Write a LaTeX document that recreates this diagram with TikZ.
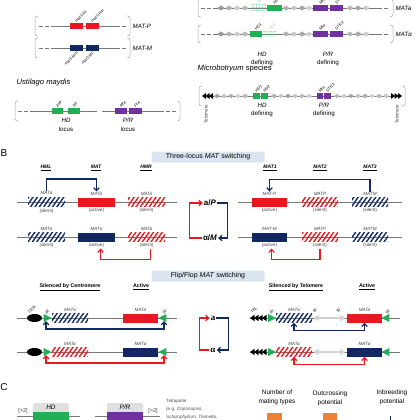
\documentclass[tikz,border=0pt]{standalone}
\usepackage{fontspec}
\setmainfont{Liberation Sans}
\newfontfamily\grkserif{Liberation Serif}
\usetikzlibrary{arrows.meta,positioning,calc,patterns.meta,shapes.geometric}
\definecolor{mred}{RGB}{232,24,30}
\definecolor{mnavy}{RGB}{18,40,96}
\definecolor{mgreen}{RGB}{34,174,84}
\definecolor{mpurple}{RGB}{112,48,160}
\definecolor{morange}{RGB}{237,128,52}
\definecolor{mblue}{RGB}{219,229,241}
\definecolor{mline}{RGB}{120,120,120}

\begin{document}
\begin{tikzpicture}[
  x=1pt,y=-1pt,>={Straight Barb[length=3pt,width=5.6pt]},
  chr/.style={draw=mline,line width=.7pt},
  chrd/.style={chr,dash pattern=on 3.5pt off 2.5pt},
  brk/.style={draw=gray!70,line width=.5pt,rounded corners=2.5pt},
  gbox/.style={inner sep=0pt,minimum height=6pt},
  locus/.style={inner sep=0pt,minimum width=36pt,minimum height=9pt},
  actR/.style={locus,fill=mred},
  actN/.style={locus,fill=mnavy},
  silR/.style={locus,pattern={Lines[angle=55,distance=3.6pt,line width=1.4pt]},pattern color=mred},
  silN/.style={locus,pattern={Lines[angle=55,distance=3.6pt,line width=1.4pt]},pattern color=mnavy},
  faded/.style={gbox,pattern={Dots[distance=1.5pt,radius=.45pt]},pattern color=mgreen!80},
  genel/.style={rotate=45,font=\fontsize{4}{4.5}\selectfont,inner sep=.3pt},
  gl/.style={font=\fontsize{4.6}{5}\selectfont\itshape,text=black!75,inner sep=.5pt},
  st/.style={font=\fontsize{4.6}{5}\selectfont,text=black!75,inner sep=.5pt},
  mlab/.style={font=\fontsize{6.2}{7}\selectfont,inner sep=.5pt},
  ttl/.style={font=\fontsize{7.6}{9}\selectfont,inner sep=.5pt},
  hdr/.style={font=\fontsize{5}{6}\selectfont\bfseries\itshape,inner sep=.5pt},
  hdrf/.style={font=\fontsize{5.3}{6}\selectfont\bfseries,inner sep=.5pt},
  banner/.style={fill=mblue,rounded corners=2pt,minimum width=113pt,minimum height=11pt,
    inner sep=0pt,font=\fontsize{7}{8}\selectfont},
  narr/.style={draw=mnavy,line width=1.2pt,->},
  rarr/.style={draw=mred,line width=1.2pt,->},
  dnarr/.style={narr,<->},
  drarr/.style={rarr,<->},
  garr/.style={draw=gray!35,line width=1.8pt,{Triangle[length=5pt,width=6.5pt]}-{Triangle[length=5pt,width=6.5pt]},
    shorten <=1.5pt,shorten >=1.5pt},
  irR/.style={isosceles triangle,isosceles triangle stretches,shape border rotate=0,
    minimum width=8pt,minimum height=8pt,inner sep=0pt,fill=mgreen},
  irL/.style={irR,shape border rotate=180},
  cen/.style={ellipse,fill=black,minimum width=15pt,minimum height=8pt,inner sep=0pt},
  sw/.style={font=\fontsize{8}{9}\selectfont,inner sep=1pt},
  ff/.style={font=\grkserif\fontsize{9}{10}\selectfont\bfseries,inner sep=1pt},
  panel/.style={font=\fontsize{10}{12}\selectfont,inner sep=0pt},
  tab/.style={fill=gray!25,rounded corners=2pt,minimum width=36pt,minimum height=9pt,inner sep=0pt,
    font=\fontsize{6.5}{7}\selectfont\itshape},
  note/.style={font=\fontsize{4.6}{8}\selectfont,text=black!70,align=left,inner sep=0pt},
  colh/.style={font=\fontsize{6.5}{9}\selectfont,align=center,inner sep=0pt}]
\useasboundingbox (0,0) rectangle (420,420);

% Ustilago maydis
\draw[brk] (38,16) -- (35,16) -- (35,36) -- (38,36);
\draw[brk] (127,16) -- (130,16) -- (130,36) -- (127,36);
\draw[brk] (38,38) -- (35,38) -- (35,58) -- (38,58);
\draw[brk] (127,38) -- (130,38) -- (130,58) -- (127,58);
\foreach \yy in {26,48} {
  \draw[chrd] (39,\yy) -- (53,\yy);
  \draw[chr] (53,\yy) -- (116,\yy);
  \draw[chrd] (116,\yy) -- (127,\yy);}
\node[gbox,fill=mred,minimum width=13pt] (pc) at (76.5,26) {};
\node[gbox,fill=mred,minimum width=13pt] (pm) at (92.5,26) {};
\node[genel,anchor=west] (tpc) at ([xshift=-1pt,yshift=1pt]pc.north) {mat1-Pc};
\node[genel,anchor=west] (tpm) at ([xshift=-1pt,yshift=1pt]pm.north) {mat1-Pm};
\node[mlab,anchor=west] (matp) at (132,26) {\textit{MAT-P}};
\node[gbox,fill=mnavy,minimum width=13pt] (mm) at (76.5,48) {};
\node[gbox,fill=mnavy,minimum width=13pt] (mc) at (92.5,48) {};
\node[genel,anchor=east] (tmm) at ([xshift=1pt,yshift=-1pt]mm.south) {mat1-Mm};
\node[genel,anchor=east] (tmc) at ([xshift=1pt,yshift=-1pt]mc.south) {mat1-Mc};
\node[mlab,anchor=west] (matm) at (132,48) {\textit{MAT-M}};
\node[ttl,anchor=west] (um) at (16,83) {\textit{Ustilago maydis}};

\draw[brk] (18,101) -- (15,101) -- (15,121) -- (18,121);
\draw[brk] (177,101) -- (180,101) -- (180,121) -- (177,121);
\draw[chrd] (18,111) -- (32,111);
\draw[chr] (32,111) -- (97,111);
\draw[chr] (102,111) -- (160,111);
\draw[chrd] (160,111) -- (177,111);
\node[gbox,fill=mgreen,minimum width=11pt] (bw) at (57.5,111) {};
\node[gbox,fill=mgreen,minimum width=12pt] (be) at (74,111) {};
\node[gbox,fill=mpurple,minimum width=12pt] (mfa) at (121,111) {};
\node[gbox,fill=mpurple,minimum width=13pt] (pra) at (135.5,111) {};
\node[genel,anchor=west] (tbw) at ([xshift=-1pt,yshift=1pt]bw.north) {\textit{bW}};
\node[genel,anchor=west] (tbe) at ([xshift=-1pt,yshift=1pt]be.north) {\textit{bE}};
\node[genel,anchor=west] (tmfa) at ([xshift=-1pt,yshift=1pt]mfa.north) {\textit{Mfa}};
\node[genel,anchor=west] (tpra) at ([xshift=-1pt,yshift=1pt]pra.north) {\textit{Pra}};
\node[mlab] (hdu) at (66,120) {\textit{HD}};
\node[mlab] (hdl) at (66,129) {locus};
\node[mlab] (pru) at (128,120) {\textit{P/R}};
\node[mlab] (prl) at (128,129) {locus};

% Microbotryum
\draw[brk] (201,-1) -- (198,-1) -- (198,17) -- (201,17);
\draw[brk] (390,-1) -- (393,-1) -- (393,17) -- (390,17);
\draw[brk] (201,25) -- (198,25) -- (198,43) -- (201,43);
\draw[brk] (390,25) -- (393,25) -- (393,43) -- (390,43);
\foreach \yy in {8,34} {
  \draw[chrd] (201,\yy) -- (214,\yy);
  \draw[chr] (214,\yy) -- (378,\yy);
  \draw[chrd] (378,\yy) -- (390,\yy);
  \foreach \x/\c in {221/80,229/60,237/40,245/55,286/60,294/45,302/70,309/35,350/55,358/70,366/40}
    \fill[gray!\c] (\x-3.5,\yy) -- (\x,\yy-2.6) -- (\x+3.5,\yy) -- (\x,\yy+2.6) -- cycle;}
\node[faded,minimum width=15pt] (hda1) at (258,8) {};
\node[gbox,fill=mgreen,minimum width=15pt] (hdb1) at (274.5,8) {};
\node[gbox,fill=mpurple,minimum width=15pt] (pra1) at (320.5,8) {};
\node[gbox,fill=mpurple,minimum width=13pt] (prb1) at (336.5,8) {};
\node[genel,anchor=west,text=gray!50] (thda1) at ([xshift=-1pt,yshift=1pt]hda1.north) {HD1};
\node[genel,anchor=west] (thdb1) at ([xshift=-1pt,yshift=1pt]hdb1.north) {HD2};
\node[genel,anchor=west] (tpra1) at ([xshift=-1pt,yshift=1pt]pra1.north) {Mfa};
\node[genel,anchor=west] (tprb1) at ([xshift=-1pt,yshift=1pt]prb1.north) {STE3};
\node[mlab,anchor=west] (mba) at (395,8) {\textit{MATa}};
\node[gbox,fill=mgreen,minimum width=12pt] (hda2) at (256,34) {};
\node[faded,minimum width=14pt] (hdb2) at (270,34) {};
\node[gbox,fill=mpurple,minimum width=15pt] (pra2) at (320.5,34) {};
\node[gbox,fill=mpurple,minimum width=13pt] (prb2) at (336.5,34) {};
\node[genel,anchor=west] (thda2) at ([xshift=-1pt,yshift=1pt]hda2.north) {HD1};
\node[genel,anchor=west,text=gray!50] (thdb2) at ([xshift=-1pt,yshift=1pt]hdb2.north) {HD2};
\node[genel,anchor=west] (tpra2) at ([xshift=-1pt,yshift=1pt]pra2.north) {Mfa};
\node[genel,anchor=west] (tprb2) at ([xshift=-1pt,yshift=1pt]prb2.north) {STE3};
\node[mlab,anchor=west] (mbal) at (395,34) {\textit{MATα}};
\node[mlab] (hdd) at (262,54) {\textit{HD}};
\node[mlab] (hddl) at (262,63) {defining};
\node[mlab] (prd) at (328,54) {\textit{P/R}};
\node[mlab] (prdl) at (328,63) {defining};
\node[ttl,anchor=west] (mbs) at (197,69) {\textit{Microbotryum} species};

\draw[brk] (202,86) -- (199,86) -- (199,106) -- (202,106);
\draw[brk] (403,86) -- (405,86) -- (405,106) -- (403,106);
\draw[chr] (203,96) -- (401,96);
\foreach \x in {202,205.5,209} \fill (\x,96) -- (\x+4,93) -- (\x+4,99) -- cycle;
\foreach \x in {395,398.5,402} \fill (\x,96) -- (\x-4,93) -- (\x-4,99) -- cycle;
\foreach \x/\c in {217/70,224/45,231/60,238/35,245/55,274/60,281/40,288/70,295/45,302/55,309/35,
    337/55,344/40,351/70,358/45,365/60,372/35,379/55,386/45}
  \fill[gray!\c] (\x-3,96) -- (\x,93.6) -- (\x+3,96) -- (\x,98.4) -- cycle;
\node[gbox,fill=mgreen,minimum width=7pt] (hdc1) at (256.5,96) {};
\node[gbox,fill=mgreen,minimum width=7pt] (hdc2) at (264.5,96) {};
\node[gbox,fill=mpurple,minimum width=6pt] (prc1) at (320,96) {};
\node[gbox,fill=mpurple,minimum width=7pt] (prc2) at (327.5,96) {};
\node[genel,anchor=west] (thdc1) at ([xshift=-1pt,yshift=1pt]hdc1.north) {HD1};
\node[genel,anchor=west] (thdc2) at ([xshift=-1pt,yshift=1pt]hdc2.north) {HD2};
\node[genel,anchor=west] (tprc1) at ([xshift=-1pt,yshift=1pt]prc1.north) {Mfa};
\node[genel,anchor=west] (tprc2) at ([xshift=-1pt,yshift=1pt]prc2.north) {STE3};
\node[st,rotate=90,anchor=east] (tel1) at (206,104) {Telomere};
\node[st,rotate=90,anchor=east] (tel2) at (397,104) {Telomere};
\node[mlab] (hde) at (262,105) {\textit{HD}};
\node[mlab] (hdel) at (262,114) {defining};
\node[mlab] (pre) at (324,105) {\textit{P/R}};
\node[mlab] (prel) at (324,114) {defining};

% B: three-locus switching
\node[panel] (pB) at (4,153) {B};
\node[banner] (bn1) at (208,157) {Three-locus \textit{MAT} switching};
\node[hdr] (hHML) at (46,168) {\underline{HML}};
\node[hdr] (hMAT) at (96,168) {\underline{MAT}};
\node[hdr] (hHMR) at (146,168) {\underline{HMR}};
\node[hdr] (hM1) at (270,168) {\underline{MAT1}};
\node[hdr] (hM2) at (320,168) {\underline{MAT2}};
\node[hdr] (hM3) at (370,168) {\underline{MAT3}};
\foreach \yy in {202,237} {\draw[chr] (17,\yy) -- (177,\yy); \draw[chr] (238,\yy) -- (402,\yy);}

\node[silN,minimum width=37pt] (hml1) at (46.5,202) {};
\node[actR,minimum width=37pt] (mat1) at (96.5,202) {};
\node[silR,minimum width=37pt] (hmr1) at (146.5,202) {};
\node[gl,above=1.2pt of hml1] (lhml1) {MATα};
\node[gl,above=1.2pt of mat1] (lmat1) {MATa};
\node[gl,above=1.2pt of hmr1] (lhmr1) {MATa};
\node[st,below=1.2pt of hml1] (shml1) {(silent)};
\node[st,below=1.2pt of mat1] (smat1) {(active)};
\node[st,below=1.2pt of hmr1] (shmr1) {(silent)};
\node[silN,minimum width=37pt] (hml2) at (46.5,237) {};
\node[actN,minimum width=37pt] (mat2) at (96.5,237) {};
\node[silR,minimum width=37pt] (hmr2) at (146.5,237) {};
\node[gl,above=1.2pt of hml2] (lhml2) {MATα};
\node[gl,above=1.2pt of mat2] (lmat2) {MATα};
\node[gl,above=1.2pt of hmr2] (lhmr2) {MATa};
\node[st,below=1.2pt of hml2] (shml2) {(silent)};
\node[st,below=1.2pt of mat2] (smat2) {(active)};
\node[st,below=1.2pt of hmr2] (shmr2) {(silent)};
\draw[narr] (lhml1.north) -- ++(0,-12) -| (lmat1.north);
\draw[rarr] ([xshift=4pt]shmr2.south) -- ++(0,11) -| ([xshift=4pt]smat2.south);

\node[sw] (aP) at (210,203) {\textbf{a/\textit{P}}};
\node[sw] (aM) at (210,238) {\textbf{α/\textit{M}}};
\draw[rarr] (aM.west) -- ++(-12,0) |- (aP.west);
\draw[narr] (aP.east) -- ++(10,0) |- (aM.east);

\node[actR,minimum width=35pt] (m11) at (269.5,202) {};
\node[silR] (m21) at (320,202) {};
\node[silN] (m31) at (370,202) {};
\node[gl,above=1.2pt of m11] (lm11) {MAT-P};
\node[gl,above=1.2pt of m21] (lm21) {MATP};
\node[gl,above=1.2pt of m31] (lm31) {MATM};
\node[st,below=1.2pt of m11] (sm11) {(active)};
\node[st,below=1.2pt of m21] (sm21) {(silent)};
\node[st,below=1.2pt of m31] (sm31) {(silent)};
\node[actN,minimum width=35pt] (m12) at (269.5,237) {};
\node[silR] (m22) at (320,237) {};
\node[silN] (m32) at (370,237) {};
\node[gl,above=1.2pt of m12] (lm12) {MAT-M};
\node[gl,above=1.2pt of m22] (lm22) {MATP};
\node[gl,above=1.2pt of m32] (lm32) {MATM};
\node[st,below=1.2pt of m12] (sm12) {(active)};
\node[st,below=1.2pt of m22] (sm22) {(silent)};
\node[st,below=1.2pt of m32] (sm32) {(silent)};
\draw[narr] (lm31.north) -- ++(0,-12) -| (lm11.north);
\draw[rarr] (sm22.south) -- ++(0,11) -| ([xshift=2pt]sm12.south);

% flip/flop switching
\node[banner] (bn2) at (208,276) {Flip/Flop \textit{MAT} switching};
\node[hdrf] (hCen) at (70,287) {\underline{Silenced by Centromere}};
\node[hdrf] (hAc1) at (141,287) {\underline{Active}};
\node[hdrf] (hTel) at (296,287) {\underline{Silenced by Telomere}};
\node[hdrf] (hAc2) at (367,287) {\underline{Active}};
\foreach \yy in {318,352} {\draw[chr] (17,\yy) -- (177,\yy); \draw[chr] (250,\yy) -- (400,\yy);
  \foreach \x in {250,254,258,262} \fill (\x,\yy) -- (\x+4.5,\yy-3.2) -- (\x+4.5,\yy+3.2) -- cycle;}

\node[cen] (cen1) at (34.5,318) {};
\node[irR] (irA1) at (46,318) {};
\node[silN] (ffs1) at (70,318) {};
\node[actR,minimum width=35pt] (ffa1) at (140.5,318) {};
\node[irL] (irB1) at (164,318) {};
\node[genel,anchor=west] (tcen) at ([xshift=-6pt,yshift=1pt]cen1.north) {CEN};
\node[genel,anchor=west] (tira) at ([xshift=-.5pt,yshift=1pt]irA1.north) {IR};
\node[genel,anchor=west] (tirb) at ([xshift=-1pt,yshift=1pt]irB1.north) {IR};
\node[gl,above=1.2pt of ffs1] (lffs1) {MATα};
\node[gl,above=1.2pt of ffa1] (lffa1) {MATa};
\draw[dnarr] (irA1.south) -- ++(0,8) -| (irB1.south);

\node[cen] (cen2) at (34.5,352) {};
\node[irR] (irA2) at (46,352) {};
\node[silR] (ffs2) at (70,352) {};
\node[actN,minimum width=35pt] (ffa2) at (140.5,352) {};
\node[irL] (irB2) at (164,352) {};
\node[gl,above=1.2pt of ffs2] (lffs2) {MATa};
\node[gl,above=1.2pt of ffa2] (lffa2) {MATα};
\draw[drarr] (irA2.south) -- ++(0,8) -| (irB2.south);

\node[ff] (fa) at (213,318) {a};
\node[ff] (fal) at (213,350) {α};
\draw[rarr] (fal.west) -- ++(-10,0) |- (fa.west);
\draw[narr] (fa.east) -- ++(12,0) |- (fal.east);

\node[irR] (irC1) at (270.5,318) {};
\node[silN] (ffr1) at (294,318) {};
\node[actR,minimum width=35pt] (ffq1) at (364.5,318) {};
\node[irL] (irD1) at (387,318) {};
\draw[garr] (ffr1.east) -- (ffq1.west);
\node[genel,anchor=west] (ttel) at (251,313) {TEL};
\node[genel,anchor=west] (tirc) at ([xshift=-.5pt,yshift=1pt]irC1.north) {IR};
\node[genel,anchor=west] (tire) at ([xshift=1pt,yshift=1pt]ffr1.north east) {IR};
\node[genel,anchor=west] (tirf) at ([xshift=-10pt,yshift=1pt]ffq1.north west) {IR};
\node[genel,anchor=west] (tird) at ([xshift=-1pt,yshift=1pt]irD1.north) {IR};
\node[gl,above=1.2pt of ffr1] (lffr1) {MATα};
\node[gl,above=1.2pt of ffq1] (lffq1) {MATa};
\draw[dnarr] (ffr1.south) -- ++(0,8) -| (ffq1.south);

\node[irR] (irC2) at (270.5,352) {};
\node[silR] (ffr2) at (294,352) {};
\node[actN,minimum width=35pt] (ffq2) at (364.5,352) {};
\node[irL] (irD2) at (387,352) {};
\draw[garr] (ffr2.east) -- (ffq2.west);
\node[gl,above=1.2pt of ffr2] (lffr2) {MATa};
\node[gl,above=1.2pt of ffq2] (lffq2) {MATα};
\draw[drarr] (ffr2.south) -- ++(0,8) -| (ffq2.south);

% C
\node[panel] (pC) at (4,387) {C};
\draw[chr] (17,416) -- (80,416);
\draw[chr] (95,416) -- (160,416);
\node[st,font=\fontsize{5.5}{6}\selectfont] (n1) at (23,411) {[>2]};
\node[tab] (hdtab) at (51,407.5) {HD};
\node[inner sep=0pt,fill=mgreen,minimum width=36pt,minimum height=10pt] (hdC) at (51,417) {};
\node[tab] (prtab) at (125,407.5) {P/R};
\node[inner sep=0pt,fill=mpurple,minimum width=36pt,minimum height=10pt] (prC) at (125,417) {};
\node[st,font=\fontsize{5.5}{6}\selectfont] (n2) at (153,411) {[>2]};
\node[note,anchor=north west] (tetra) at (166,399)
  {Tetrapolar\\(e.g. \textit{Coprinopsis},\\\textit{Schizophyllum}, \textit{Tremella},};
\node[colh] (cnum) at (277,397.5) {Number of\\mating types};
\node[colh] (cout) at (330,398) {Outcrossing\\potential};
\node[colh] (cinb) at (392,397.5) {Inbreeding\\potential};
\fill[morange] (267,413) rectangle (282,421);
\fill[morange] (323,413) rectangle (337,421);
\draw[mnavy,line width=.8pt] (390,416) -- (390,421);
\end{tikzpicture}
\end{document}
